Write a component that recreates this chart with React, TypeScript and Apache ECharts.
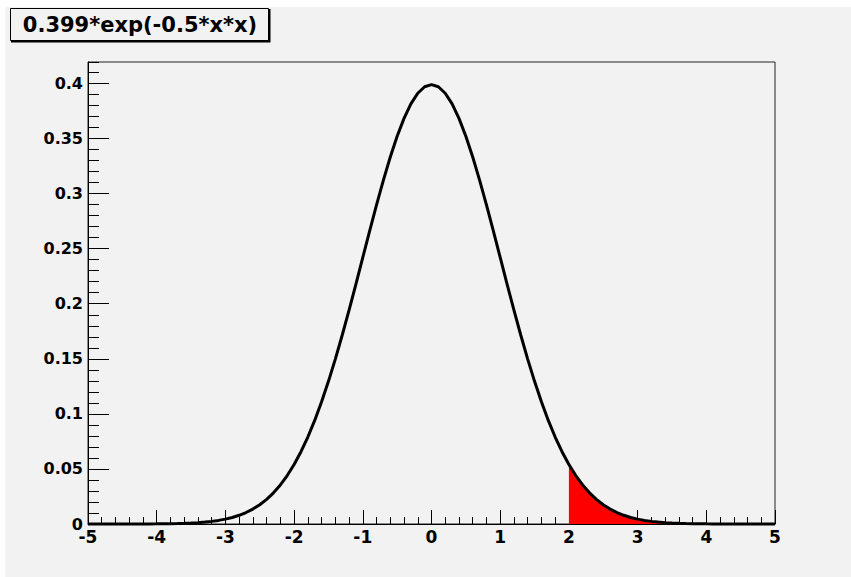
import React, { useEffect, useRef } from "react";
import * as echarts from "echarts";

const titleText = "0.399*exp(-0.5*x*x)";

const xValues = [
  -5.0, -4.9, -4.8, -4.7, -4.6, -4.5, -4.4, -4.3, -4.2, -4.1,
  -4.0, -3.9, -3.8, -3.7, -3.6, -3.5, -3.4, -3.3, -3.2, -3.1,
  -3.0, -2.9, -2.8, -2.7, -2.6, -2.5, -2.4, -2.3, -2.2, -2.1,
  -2.0, -1.9, -1.8, -1.7, -1.6, -1.5, -1.4, -1.3, -1.2, -1.1,
  -1.0, -0.9, -0.8, -0.7, -0.6, -0.5, -0.4, -0.3, -0.2, -0.1,
  0.0,
  0.1, 0.2, 0.3, 0.4, 0.5, 0.6, 0.7, 0.8, 0.9, 1.0,
  1.1, 1.2, 1.3, 1.4, 1.5, 1.6, 1.7, 1.8, 1.9, 2.0,
  2.1, 2.2, 2.3, 2.4, 2.5, 2.6, 2.7, 2.8, 2.9, 3.0,
  3.1, 3.2, 3.3, 3.4, 3.5, 3.6, 3.7, 3.8, 3.9, 4.0,
  4.1, 4.2, 4.3, 4.4, 4.5, 4.6, 4.7, 4.8, 4.9, 5.0,
];

const yValues = [
  0.0, 0.0, 0.0, 0.00001, 0.00001, 0.00002, 0.00003, 0.00004, 0.00006, 0.00009,
  0.00013, 0.0002, 0.00029, 0.00042, 0.00061, 0.00087, 0.00123, 0.00172, 0.00238, 0.00327,
  0.00443, 0.00595, 0.00792, 0.01042, 0.01358, 0.01753, 0.0224, 0.02833, 0.03548, 0.04399,
  0.054, 0.06563, 0.07896, 0.09406, 0.11094, 0.12954, 0.14975, 0.17139, 0.19421, 0.21788,
  0.24201, 0.26612, 0.28973, 0.3123, 0.33327, 0.35212, 0.36832, 0.38144, 0.3911, 0.39701,
  0.399,
  0.39701, 0.3911, 0.38144, 0.36832, 0.35212, 0.33327, 0.3123, 0.28973, 0.26612, 0.24201,
  0.21788, 0.19421, 0.17139, 0.14975, 0.12954, 0.11094, 0.09406, 0.07896, 0.06563, 0.054,
  0.04399, 0.03548, 0.02833, 0.0224, 0.01753, 0.01358, 0.01042, 0.00792, 0.00595, 0.00443,
  0.00327, 0.00238, 0.00172, 0.00123, 0.00087, 0.00061, 0.00042, 0.00029, 0.0002, 0.00013,
  0.00009, 0.00006, 0.00004, 0.00003, 0.00002, 0.00001, 0.00001, 0.0, 0.0, 0.0,
];

const fillFrom = 2.0;
const xTickLabels = ["-5", "-4", "-3", "-2", "-1", "0", "1", "2", "3", "4", "5"];
const yTickLabels = ["0", "0.05", "0.1", "0.15", "0.2", "0.25", "0.3", "0.35", "0.4"];

export default function App() {
  const ref = useRef<HTMLDivElement>(null);
  useEffect(() => {
    document.body.style.margin = "0";
    if (!ref.current) return;
    const chart = echarts.init(ref.current, undefined, { renderer: "svg" });
    const curve = xValues.map((x, i) => [x, yValues[i]]);
    const fill = curve.filter((p) => p[0] >= fillFrom - 1e-9);
    const labelFont = {
      fontFamily: "DejaVu Sans",
      fontWeight: "bold" as const,
      color: "#000",
    };
    const yMax = 0.4195;
    chart.setOption({
      animation: false,
      backgroundColor: "#f2f2f2",
      grid: {
        left: 83,
        right: 76,
        top: 55,
        bottom: 53,
        show: true,
        borderColor: "#222",
        borderWidth: 1,
        backgroundColor: "transparent",
      },
      xAxis: {
        type: "value",
        min: -5,
        max: 5,
        interval: 1,
        axisLine: { show: true, onZero: false, lineStyle: { color: "#000", width: 1 } },
        axisTick: { show: true, inside: true, length: 14, lineStyle: { color: "#000", width: 1 } },
        minorTick: { show: true, splitNumber: 5, length: 7, lineStyle: { color: "#000", width: 1 } },
        splitLine: { show: false },
        axisLabel: {
          ...labelFont,
          fontSize: 17,
          margin: 4,
          formatter: (v: number) => {
            const idx = Math.round(v + 5);
            return xTickLabels[idx] ?? "";
          },
        },
      },
      yAxis: [
        {
          type: "value",
          min: 0,
          max: yMax,
          interval: 0.05,
          axisLine: { show: true, onZero: false, lineStyle: { color: "#000", width: 1 } },
          axisTick: { show: true, inside: true, length: 21, lineStyle: { color: "#000", width: 1 } },
          splitLine: { show: false },
          axisLabel: {
            ...labelFont,
            fontSize: 16,
            margin: 5,
            padding: [3, 0, 0, 0],
            showMaxLabel: false,
            formatter: (v: number) => {
              const idx = Math.round(v / 0.05);
              if (Math.abs(v - idx * 0.05) > 1e-6) return "";
              return yTickLabels[idx] ?? "";
            },
          },
        },
        {
          type: "value",
          position: "left",
          min: 0,
          max: yMax,
          interval: 0.01,
          axisLine: { show: false, onZero: false },
          axisTick: { show: true, inside: true, length: 11, lineStyle: { color: "#000", width: 1 } },
          splitLine: { show: false },
          axisLabel: { show: false },
        },
      ],
      graphic: [
        {
          type: "rect",
          shape: { x: 5.5, y: 1.5, width: 258, height: 32 },
          style: { fill: "#f2f2f2", stroke: "#000", lineWidth: 1 },
          z: 10,
        },
        {
          type: "polyline",
          shape: { points: [[6, 34.5], [264.5, 34.5], [264.5, 2]] },
          style: { stroke: "#000", lineWidth: 2, fill: null },
          z: 11,
        },
        {
          type: "text",
          x: 135,
          y: 18,
          style: {
            text: titleText,
            fontFamily: "DejaVu Sans",
            fontWeight: "bold",
            fontSize: 21,
            fill: "#000",
            align: "center",
            verticalAlign: "middle",
          },
          z: 12,
        },
      ],
      series: [
        {
          type: "line",
          data: fill,
          showSymbol: false,
          symbol: "none",
          lineStyle: { width: 0 },
          areaStyle: { color: "#ff0000", opacity: 1 },
          z: 2,
        },
        {
          type: "line",
          data: curve,
          showSymbol: false,
          symbol: "none",
          clip: false,
          lineStyle: { color: "#000", width: 3 },
          z: 3,
        },
      ],
    });
    return () => chart.dispose();
  }, []);
  return (
    <div style={{ width: 851, height: 577, background: "#fff", paddingLeft: 5, paddingTop: 7, boxSizing: "border-box" }}>
      <div ref={ref} style={{ width: 846, height: 570 }} />
    </div>
  );
}
